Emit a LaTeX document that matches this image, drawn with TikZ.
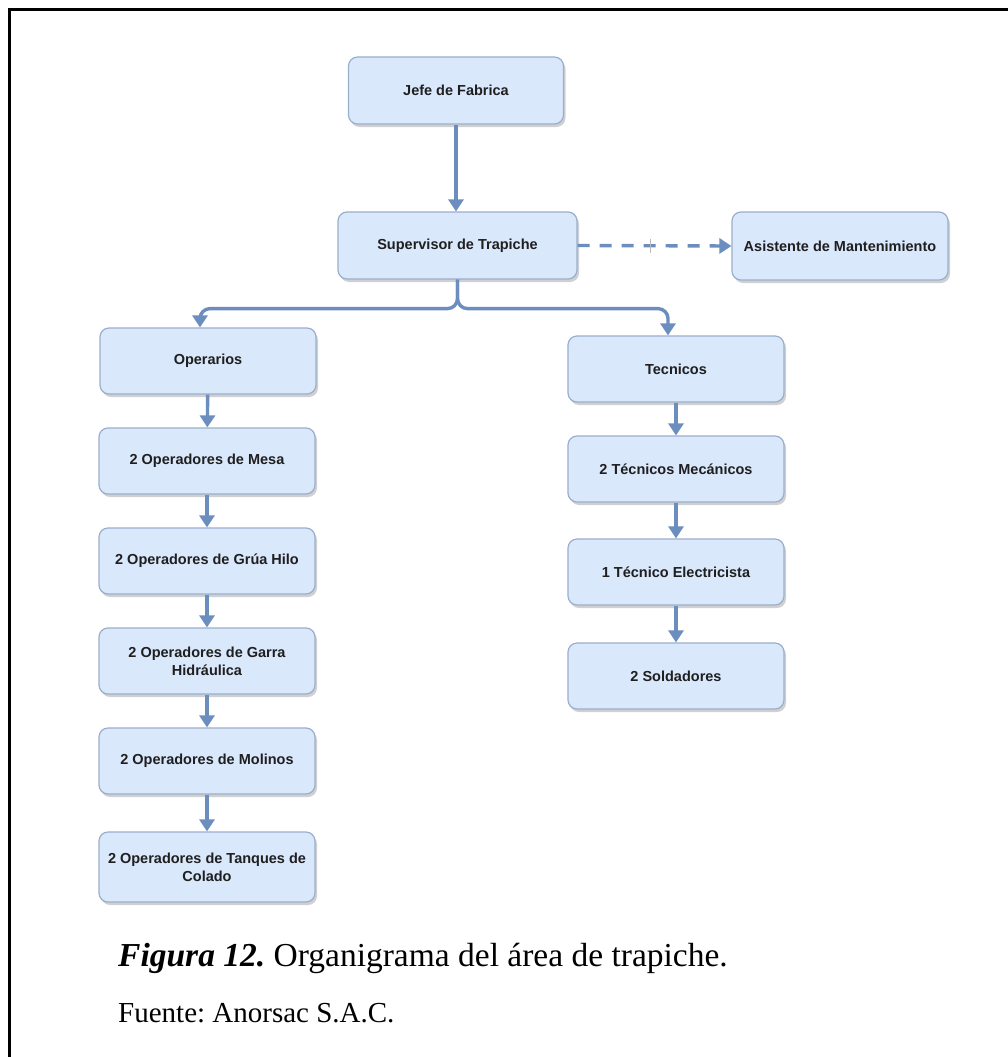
\documentclass[tikz,border=0pt]{standalone}
\usepackage{fontspec}
\setmainfont{Liberation Serif}
\setsansfont{Liberation Sans}
\usetikzlibrary{arrows.meta,shadows}
\definecolor{boxfill}{HTML}{DAE8FC}
\definecolor{boxline}{HTML}{9AAFCB}
\definecolor{linkblue}{HTML}{6C8EBF}
\frenchspacing
\begin{document}
\begin{tikzpicture}[x=1pt,y=-1pt,
  orgbox/.style={draw=boxline, line width=1.2pt, fill=boxfill, rounded corners=9pt,
    minimum width=216pt, minimum height=66pt, align=center, inner sep=2pt,
    font=\sffamily\bfseries\fontsize{14.5}{18}\selectfont, text=black!88,
    drop shadow={shadow xshift=2pt, shadow yshift=-3pt, opacity=0.3, fill=black!60}},
  orgarrow/.style={draw=linkblue, line width=3.4pt, -{Triangle[width=15pt,length=12pt]}},
  caption/.style={anchor=base west, inner sep=0pt},
]
\useasboundingbox (0,0) rectangle (1008,1057);
\fill[white] (0,0) rectangle (1008,1057);

% frame around the figure
\draw[line width=3pt] (9,1057) -- (9,10) -- (1008,10);

% top of the chart
\node[orgbox, minimum width=215pt, minimum height=67pt] (jefe) at (456,90.5) {Jefe de Fabrica};
\node[orgbox, minimum width=239pt, minimum height=67pt] (sup) at (457.5,245.5) {Supervisor de Trapiche};
\node[orgbox, minimum height=68pt] (asis) at (840,246) {Asistente de Mantenimiento};

% left branch
\node[orgbox] (oper) at (208,361) {Operarios};
\node[orgbox] (mesa) at (207,461) {2 Operadores de Mesa};
\node[orgbox] (grua) at (207,561) {2 Operadores de Grúa Hilo};
\node[orgbox] (garra) at (207,661) {2 Operadores de Garra\\Hidráulica};
\node[orgbox] (molinos) at (207,761) {2 Operadores de Molinos};
\node[orgbox, minimum height=70pt] (tanques) at (207,867) {2 Operadores de Tanques de\\Colado};

% right branch
\node[orgbox] (tec) at (676,369) {Tecnicos};
\node[orgbox] (mec) at (676,469) {2 Técnicos Mecánicos};
\node[orgbox] (elec) at (676,572) {1 Técnico Electricista};
\node[orgbox] (sold) at (676,676) {2 Soldadores};

% connectors
\draw[orgarrow] (jefe.south) -- (jefe.south |- sup.north);
\draw[orgarrow, dashed, dash pattern=on 12pt off 10pt] (sup.east) -- (asis.west);
\draw[gray!55, line width=0.8pt] (650,239) -- (650,253);
\draw[orgarrow, rounded corners=10pt] (sup.south) -- ++(0,29) -| ([xshift=-8pt]oper.north);
\draw[orgarrow, rounded corners=10pt] (sup.south) -- ++(0,29) -| ([xshift=-8pt]tec.north);

\draw[orgarrow] (oper) -- (mesa);
\draw[orgarrow] (mesa) -- (grua);
\draw[orgarrow] (grua) -- (garra);
\draw[orgarrow] (garra) -- (molinos);
\draw[orgarrow] (molinos) -- (tanques);

\draw[orgarrow] (tec) -- (mec);
\draw[orgarrow] (mec) -- (elec);
\draw[orgarrow] (elec) -- (sold);

% caption
\node[caption, font=\fontsize{33.5}{38}\selectfont] (fig) at (118,966) {\textbf{\textit{Figura 12.}} Organigrama del área de trapiche.};
\node[caption, font=\fontsize{29}{36}\selectfont] (src) at (118,1022) {Fuente: Anorsac S.A.C.};
\end{tikzpicture}
\end{document}
